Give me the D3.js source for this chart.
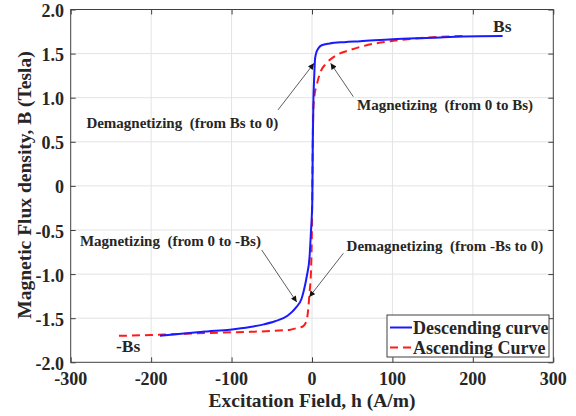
<!DOCTYPE html>
<html>
<head>
<meta charset="utf-8">
<script src="https://cdn.jsdelivr.net/npm/d3@7"></script>
<style>
  body { margin: 0; background: #fff; }
  text { font-family: "Liberation Serif", "Times New Roman", serif; font-weight: bold; fill: #262626; }
</style>
</head>
<body>
<svg width="576" height="416"></svg>
<script>
// descending branch (from +Bs back to -Bs)
var descH = [237, 188, 150, 100, 60, 40, 22, 12, 8, 5, 3.7, 2.6, 1.8, 1.0, 0.4, -0.3, -1.2, -3, -6.6, -10, -13, -20, -30, -46, -60, -77, -102, -130, -156, -189];
var descB = [1.70, 1.695, 1.68, 1.663, 1.64, 1.63, 1.615, 1.595, 1.56, 1.50, 1.43, 1.2, 1.0, 0.5, -0.16, -0.35, -0.5, -0.8, -1.03, -1.18, -1.28, -1.38, -1.47, -1.535, -1.57, -1.60, -1.63, -1.65, -1.67, -1.70];
// ascending branch (from -Bs up to +Bs)
var ascH = [-240, -200, -156, -100, -77, -52, -35, -27, -20, -15, -10.8, -6.6, -4.5, -3.3, -1.2, 0, 0.6, 1.6, 3, 5.8, 10, 18, 30, 47, 68, 101, 146, 188];
var ascB = [-1.70, -1.69, -1.675, -1.66, -1.655, -1.645, -1.635, -1.63, -1.615, -1.605, -1.59, -1.52, -1.38, -1.24, -0.95, -0.4, 0.2, 0.86, 1.02, 1.14, 1.28, 1.39, 1.48, 1.54, 1.595, 1.645, 1.683, 1.70];

var xTicks = [-300, -200, -100, 0, 100, 200, 300];
var yTicks = [-2, -1.5, -1, -0.5, 0, 0.5, 1, 1.5, 2];
var yTickLabels = ['-2.0', '-1.5', '-1.0', '-0.5', '0', '0.5', '1.0', '1.5', '2.0'];

// annotation text anchors and arrow tail/tip, in data units
var notes = [
  { text: 'Demagnetizing  (from Bs to 0)',  tx: -280.5, tb: 0.66,  h0: -42.3, b0: 0.861,  h1: 2.5,   b1: 1.39 },
  { text: 'Magnetizing  (from 0 to Bs)',    tx: 56,     tb: 0.861, h0: 51.3,  b0: 1.012,  h1: 23.2,  b1: 1.39 },
  { text: 'Magnetizing  (from 0 to -Bs)',   tx: -288.5, tb: -0.68, h0: -62.5, b0: -0.727, h1: -19,   b1: -1.317 },
  { text: 'Demagnetizing  (from -Bs to 0)', tx: 43,     tb: -0.734, h0: 39,   b0: -0.764, h1: -3.4,  b1: -1.26 }
];
var satLabels = [
  { text: 'Bs',  h: 225,    b: 1.745 },
  { text: '-Bs', h: -243.7, b: -1.88 }
];
var legendNames = ['Descending curve', 'Ascending Curve'];

var svg = d3.select('svg'),
  pLeft = 70.7, pRight = 553.3, pTop = 9.5, pBottom = 362.3;

var x = d3.scaleLinear().domain([-300, 300]).range([pLeft, pRight]);
var y = d3.scaleLinear().domain([-2, 2]).range([pBottom, pTop]);

// grid
var grid = svg.append('g').attr('stroke', '#e3e3e3').attr('stroke-width', 1);
grid.selectAll('.gx').data(xTicks.slice(1, -1)).enter().append('line')
  .attr('x1', d => x(d)).attr('x2', d => x(d)).attr('y1', pTop).attr('y2', pBottom);
grid.selectAll('.gy').data(yTicks.slice(1, -1)).enter().append('line')
  .attr('y1', d => y(d)).attr('y2', d => y(d)).attr('x1', pLeft).attr('x2', pRight);

// axes with inward ticks on all four sides
var axisColor = '#404040';
function styleAxis(g) {
  g.select('.domain').remove();
  g.selectAll('.tick line').attr('stroke', axisColor);
  g.selectAll('.tick text').remove();
}
svg.append('g').attr('transform', 'translate(0,' + pBottom + ')')
  .call(d3.axisBottom(x).tickValues(xTicks).tickSize(-5)).call(styleAxis);
svg.append('g').attr('transform', 'translate(0,' + pTop + ')')
  .call(d3.axisTop(x).tickValues(xTicks).tickSize(-5)).call(styleAxis);
svg.append('g').attr('transform', 'translate(' + pLeft + ',0)')
  .call(d3.axisLeft(y).tickValues(yTicks).tickSize(-5)).call(styleAxis);
svg.append('g').attr('transform', 'translate(' + pRight + ',0)')
  .call(d3.axisRight(y).tickValues(yTicks).tickSize(-5)).call(styleAxis);

svg.append('rect').attr('x', pLeft).attr('y', pTop)
  .attr('width', pRight - pLeft).attr('height', pBottom - pTop)
  .attr('fill', 'none').attr('stroke', axisColor).attr('stroke-width', 1);

// tick labels
svg.selectAll('.xl').data(xTicks).enter().append('text')
  .attr('x', d => x(d)).attr('y', 385).attr('text-anchor', 'middle')
  .style('font-size', '18px').text(d => d);
svg.selectAll('.yl').data(yTicks).enter().append('text')
  .attr('x', 64).attr('y', d => y(d) + 7.5).attr('text-anchor', 'end')
  .style('font-size', '18px').text((d, i) => yTickLabels[i]);

// axis titles
svg.append('text').attr('x', (pLeft + pRight) / 2).attr('y', 406.5)
  .attr('text-anchor', 'middle').style('font-size', '19.5px')
  .text('Excitation Field, h (A/m)');
svg.append('text').attr('transform', 'translate(31,' + 185 + ') rotate(-90)')
  .attr('text-anchor', 'middle').style('font-size', '19.5px')
  .text('Magnetic Flux density, B (Tesla)');

// curves
var line = d3.line().x(d => x(d[0])).y(d => y(d[1])).curve(d3.curveMonotoneX);
var desc = d3.zip(descH, descB).sort((a, b) => a[0] - b[0]);
var asc = d3.zip(ascH, ascB).sort((a, b) => a[0] - b[0]);

svg.append('path').datum(asc).attr('d', line)
  .attr('fill', 'none').attr('stroke', '#ff1a1a').attr('stroke-width', 2)
  .attr('stroke-dasharray', '8,5');
svg.append('path').datum(desc).attr('d', line)
  .attr('fill', 'none').attr('stroke', '#1a1aff').attr('stroke-width', 2);

// arrowhead
svg.append('defs').append('marker')
  .attr('id', 'head').attr('viewBox', '0 0 10 10')
  .attr('refX', 10).attr('refY', 5)
  .attr('markerWidth', 7).attr('markerHeight', 6)
  .attr('markerUnits', 'userSpaceOnUse')
  .attr('orient', 'auto')
  .append('path').attr('d', 'M0,0L10,5L0,10z').attr('fill', '#111');

var ann = svg.append('g');
ann.selectAll('line').data(notes).enter().append('line')
  .attr('x1', d => x(d.h0)).attr('y1', d => y(d.b0))
  .attr('x2', d => x(d.h1)).attr('y2', d => y(d.b1))
  .attr('stroke', '#333').attr('stroke-width', 0.8)
  .attr('marker-end', 'url(#head)');
ann.selectAll('text').data(notes).enter().append('text')
  .attr('x', d => x(d.tx)).attr('y', d => y(d.tb))
  .style('font-size', '15px').style('white-space', 'pre')
  .text(d => d.text);

svg.selectAll('.sat').data(satLabels).enter().append('text')
  .attr('x', d => x(d.h)).attr('y', d => y(d.b))
  .style('font-size', '17.5px').text(d => d.text);

// legend
var lg = svg.append('g').attr('transform', 'translate(387,315)');
lg.append('rect').attr('width', 162).attr('height', 42)
  .attr('fill', '#fff').attr('stroke', axisColor).attr('stroke-width', 1);
var rows = lg.selectAll('.row').data(legendNames).enter().append('g')
  .attr('transform', (d, i) => 'translate(0,' + (12.5 + i * 20) + ')');
rows.append('line').attr('x1', 3).attr('x2', 25).attr('y1', 0).attr('y2', 0)
  .attr('stroke', (d, i) => i ? '#ff1a1a' : '#1a1aff').attr('stroke-width', 2)
  .attr('stroke-dasharray', (d, i) => i ? '8,5' : null);
rows.append('text').attr('x', 26).attr('y', 6.5)
  .style('font-size', '18px').text(d => d);
</script>
</body>
</html>
